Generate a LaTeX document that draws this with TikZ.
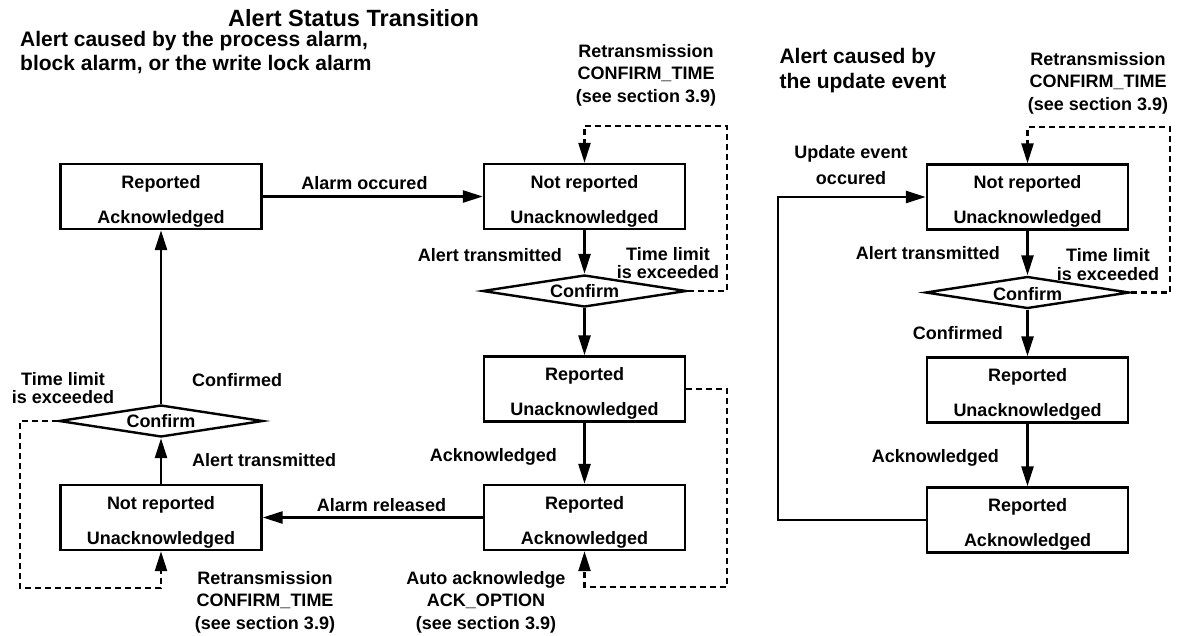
\documentclass[tikz,border=0pt]{standalone}
\usepackage{fontspec}
\setmainfont{Liberation Sans}
\usetikzlibrary{arrows.meta,shapes.geometric}
\newcommand\mlx[2]{\begin{tabular}[t]{@{}#1@{}}#2\end{tabular}}
\tikzset{
  box/.style={draw, line width=2.4pt, minimum width=201pt, minimum height=65pt, inner sep=0pt},
  dia/.style={draw, diamond, aspect=6.4, minimum width=204pt, minimum height=32pt, inner sep=0pt, line width=2.4pt, font=\fontsize{18}{18}\selectfont\bfseries},
  btxt/.style={font=\fontsize{18}{18}\selectfont\bfseries, inner sep=0pt, anchor=base},
  lab/.style={font=\fontsize{18}{22.5}\selectfont\bfseries, inner sep=0pt, anchor=base},
  labtight/.style={font=\fontsize{18}{18.5}\selectfont\bfseries, inner sep=0pt, anchor=base},
  arr/.style={line width=2.6pt, -{Triangle[length=20pt,width=12pt]}},
  dasharr/.style={line width=2.4pt, dash pattern=on 6pt off 4pt, -{Triangle[length=20pt,width=12pt]}}
}
\begin{document}
\begin{tikzpicture}[x=1pt,y=-1pt]
\useasboundingbox (0,0) rectangle (1180,635);

% titles
\node[inner sep=0pt, anchor=base west, font=\fontsize{23.5}{28}\selectfont\bfseries] (title) at (228,26.7) {Alert Status Transition};
\node[inner sep=0pt, anchor=base west, font=\fontsize{21}{23.3}\selectfont\bfseries] (subl) at (20,46.7) {\mlx{l}{Alert caused by the process alarm,\\block alarm, or the write lock alarm}};
\node[inner sep=0pt, anchor=base west, font=\fontsize{21}{25}\selectfont\bfseries] (subr) at (779.3,63.3) {\mlx{l}{Alert caused by\\the update event}};

% ---------- left diagram ----------
\node[box] (ra1) at (161,196.5) {};
\node[btxt] (ra1a) at ([yshift=8.2pt]ra1.center) {Reported};
\node[btxt] (ra1b) at ([yshift=-26.8pt]ra1.center) {Acknowledged};

\node[box] (nru1) at (584.5,196.5) {};
\node[btxt] (nru1a) at ([yshift=8.2pt]nru1.center) {Not reported};
\node[btxt] (nru1b) at ([yshift=-26.8pt]nru1.center) {Unacknowledged};

\node[dia] (d1) at (584.5,291) {Confirm};

\node[box] (ru) at (584.5,389) {};
\node[btxt] (rua) at ([yshift=8.2pt]ru.center) {Reported};
\node[btxt] (rub) at ([yshift=-26.8pt]ru.center) {Unacknowledged};

\node[box] (ra) at (584.5,517.5) {};
\node[btxt] (raa) at ([yshift=8.2pt]ra.center) {Reported};
\node[btxt] (rab) at ([yshift=-26.8pt]ra.center) {Acknowledged};

\node[box] (nru2) at (161,517.5) {};
\node[btxt] (nru2a) at ([yshift=8.2pt]nru2.center) {Not reported};
\node[btxt] (nru2b) at ([yshift=-26.8pt]nru2.center) {Unacknowledged};

\node[dia] (d2) at (161,421) {Confirm};

\draw[arr] (ra1.east) -- (nru1.west);
\draw[arr] (nru1.south) -- (d1.north);
\draw[arr] (d1.south) -- (ru.north);
\draw[arr] (ru.south) -- (ra.north);
\draw[arr] (ra.west) -- (nru2.east);
\draw[arr] (nru2.north) -- (d2.south);
\draw[arr] (d2.north) -- (ra1.south);

\coordinate (k1) at (727,126);
\draw[dasharr] (d1.east) -| (k1) -| (nru1.north);
\coordinate (k2) at (727,587);
\draw[dasharr] (ru.east) -| (k2) -| (ra.south);
\coordinate (k3) at (20,588);
\draw[dasharr] (d2.west) -| (k3) -| (nru2.south);

% labels left diagram
\node[lab] (l1) at (364.5,189) {Alarm occured};
\node[lab, anchor=base east] (l2) at (562,261.5) {Alert transmitted};
\node[labtight] (l3) at (668,260) {\mlx{c}{Time limit\\is exceeded}};
\node[lab] (l4) at (646,57.3) {\mlx{c}{Retransmission\\CONFIRM\_TIME\\(see section 3.9)}};
\node[lab, anchor=base east] (l5) at (557,461.7) {Acknowledged};
\node[lab] (l6) at (381.5,511.7) {Alarm released};
\node[lab] (l7) at (486,584) {\mlx{c}{Auto acknowledge\\ACK\_OPTION\\(see section 3.9)}};
\node[lab] (l8) at (265,584) {\mlx{c}{Retransmission\\CONFIRM\_TIME\\(see section 3.9)}};
\node[lab, anchor=base west] (l9) at (192,466.7) {Alert transmitted};
\node[labtight] (l10) at (63,385) {\mlx{c}{Time limit\\is exceeded}};
\node[lab, anchor=base west] (l11) at (192,386) {Confirmed};

% ---------- right diagram ----------
\node[box] (nru3) at (1027.5,197) {};
\node[btxt] (nru3a) at ([yshift=8.2pt]nru3.center) {Not reported};
\node[btxt] (nru3b) at ([yshift=-26.8pt]nru3.center) {Unacknowledged};

\node[dia] (d3) at (1027.5,292.5) {};
\node[btxt] (d3t) at ([yshift=-8pt]d3.center) {Confirm};

\node[box] (ru3) at (1027.5,390) {};
\node[btxt] (ru3a) at ([yshift=8.2pt]ru3.center) {Reported};
\node[btxt] (ru3b) at ([yshift=-26.8pt]ru3.center) {Unacknowledged};

\node[box] (ra3) at (1027.5,520) {};
\node[btxt] (ra3a) at ([yshift=8.2pt]ra3.center) {Reported};
\node[btxt] (ra3b) at ([yshift=-26.8pt]ra3.center) {Acknowledged};

\draw[arr] (nru3.south) -- (d3.north);
\draw[arr] (d3.south) -- (ru3.north);
\draw[arr] (ru3.south) -- (ra3.north);
\coordinate (k4) at (1170,127);
\draw[dasharr] (d3.east) -| (k4) -| (nru3.north);
\coordinate (k5) at (778,520);
\draw[arr] (ra3.west) -- (k5) |- (nru3.west);

\node[lab] (r1) at (1098,65) {\mlx{c}{Retransmission\\CONFIRM\_TIME\\(see section 3.9)}};
\node[font=\fontsize{18}{25.5}\selectfont\bfseries, inner sep=0pt, anchor=base] (r2) at (851,158.5) {\mlx{c}{Update event\\occured}};
\node[lab, anchor=base east] (r3) at (1000,259.3) {Alert transmitted};
\node[labtight] (r4) at (1108,261.7) {\mlx{c}{Time limit\\is exceeded}};
\node[lab, anchor=base east] (r5) at (1003,339.3) {Confirmed};
\node[lab, anchor=base east] (r6) at (999,462) {Acknowledged};
\end{tikzpicture}
\end{document}
